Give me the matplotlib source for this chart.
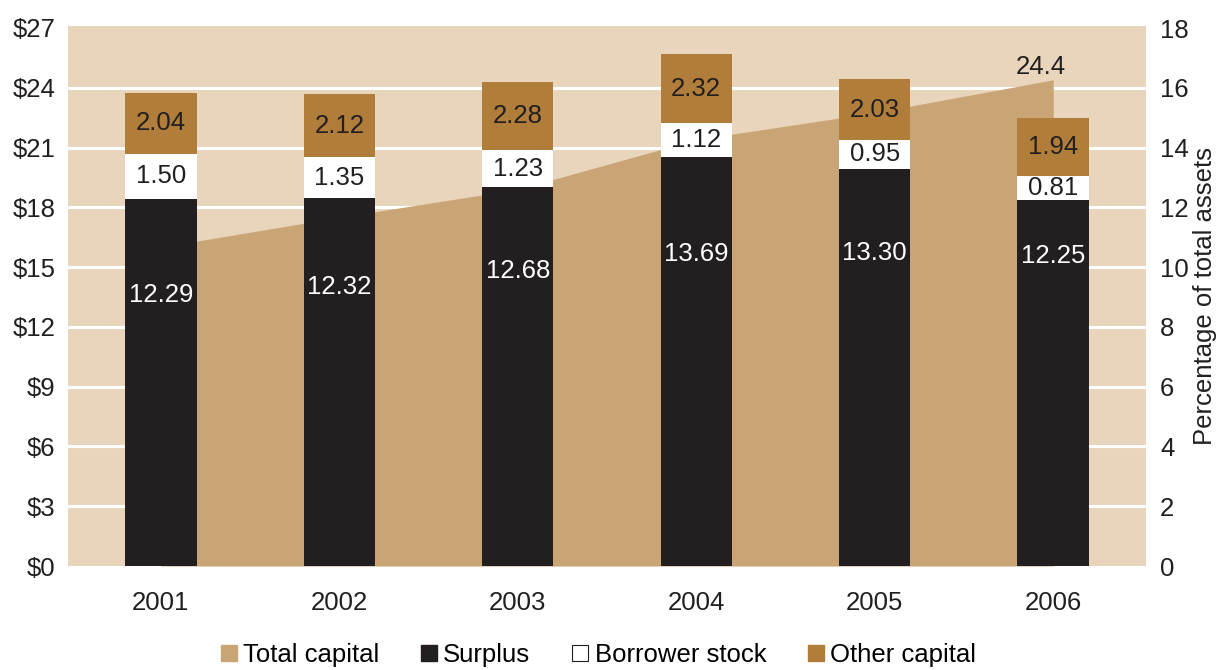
import matplotlib.pyplot as plt
from matplotlib.lines import Line2D
from matplotlib.ticker import FuncFormatter

plt.rcParams['font.family'] = ['Liberation Sans', 'DejaVu Sans']

# Capital components, percent of total assets
years = ["2001", "2002", "2003", "2004", "2005", "2006"]
surplus = [12.29, 12.32, 12.68, 13.69, 13.30, 12.25]
borrower_stock = [1.50, 1.35, 1.23, 1.12, 0.95, 0.81]
other_capital = [2.04, 2.12, 2.28, 2.32, 2.03, 1.94]
# Total capital, $ billions
total_capital = [16.0, 17.5, 18.9, 21.4, 22.75, 24.4]
# where the surplus numbers sit inside the black bars (percent axis)
surplus_label_y = [9.08, 9.32, 9.86, 10.43, 10.49, 10.39]

BG = "#E8D5BC"
TAN = "#C9A475"
BLACK = "#231F20"
BROWN = "#B07D3A"
FS = 18.5

fig, ax = plt.subplots(figsize=(12.18, 6.70), dpi=100)
fig.subplots_adjust(left=68/1218, right=1146/1218, top=1-26/670, bottom=1-566/670)

x = list(range(len(years)))

# left axis: dollars, background, grid and total capital area
ax.set_facecolor(BG)
ax.set_xlim(-0.52, 5.52)
ax.set_ylim(0, 27.1)
for v in range(3, 27, 3):
    ax.axhline(v, color="white", lw=2.2, zorder=0.5)
ax.fill_between(x, 0, total_capital, color=TAN, lw=0, zorder=1)
ax.text(x[-1] - 0.07, total_capital[-1] + 0.05, f"{total_capital[-1]:.1f}",
        ha="center", va="bottom", fontsize=FS, color=BLACK)
ax.set_yticks(range(0, 28, 3))
ax.yaxis.set_major_formatter(FuncFormatter(lambda v, p: f"${v:.0f}"))
ax.set_xticks(x)
ax.set_xticklabels(years)
ax.tick_params(length=0, labelsize=FS, labelcolor=BLACK)
ax.tick_params(axis="x", pad=18)
ax.tick_params(axis="y", pad=9)
for s in ax.spines.values():
    s.set_visible(False)

# right axis: percent of total assets, stacked bars
ax2 = ax.twinx()
ax2.set_ylim(0, 18.07)
ax2.patch.set_visible(False)
w = 0.4
ax2.bar(x, surplus, width=w, color=BLACK, lw=0, zorder=2)
bottom2 = surplus
ax2.bar(x, borrower_stock, width=w, bottom=bottom2, color="white", lw=0, zorder=2)
bottom3 = [a + b for a, b in zip(surplus, borrower_stock)]
ax2.bar(x, other_capital, width=w, bottom=bottom3, color=BROWN, lw=0, zorder=2)

for i in x:
    ax2.text(i, surplus_label_y[i], f"{surplus[i]:.2f}", ha="center", va="center",
             color="white", fontsize=FS, zorder=3)
    ax2.text(i, surplus[i] + borrower_stock[i] / 2, f"{borrower_stock[i]:.2f}",
             ha="center", va="center", color=BLACK, fontsize=FS, zorder=3)
    ax2.text(i, bottom3[i] + other_capital[i] / 2, f"{other_capital[i]:.2f}",
             ha="center", va="center", color=BLACK, fontsize=FS, zorder=3)

ax2.set_yticks(range(0, 19, 2))
ax2.tick_params(length=0, labelsize=FS, labelcolor=BLACK, pad=10)
ax2.set_ylabel("Percentage of total assets", fontsize=18.5, color=BLACK, labelpad=3)
for s in ax2.spines.values():
    s.set_visible(False)

handles = [
    Line2D([], [], ls="", marker="s", markersize=12, markerfacecolor=TAN, markeredgecolor=TAN),
    Line2D([], [], ls="", marker="s", markersize=12, markerfacecolor=BLACK, markeredgecolor=BLACK),
    Line2D([], [], ls="", marker="s", markersize=12, markerfacecolor="white", markeredgecolor=BLACK, markeredgewidth=0.8),
    Line2D([], [], ls="", marker="s", markersize=12, markerfacecolor=BROWN, markeredgecolor=BROWN),
]
labels = ["Total capital", "Surplus", "Borrower stock", "Other capital"]
fig.legend(handles, labels, loc="center", bbox_to_anchor=(598/1218, 1-655/670),
           ncol=4, frameon=False, handlelength=0.7, handletextpad=0.2,
           columnspacing=1.6, prop={"size": 18.5})

fig.savefig("out.png", dpi=100)
